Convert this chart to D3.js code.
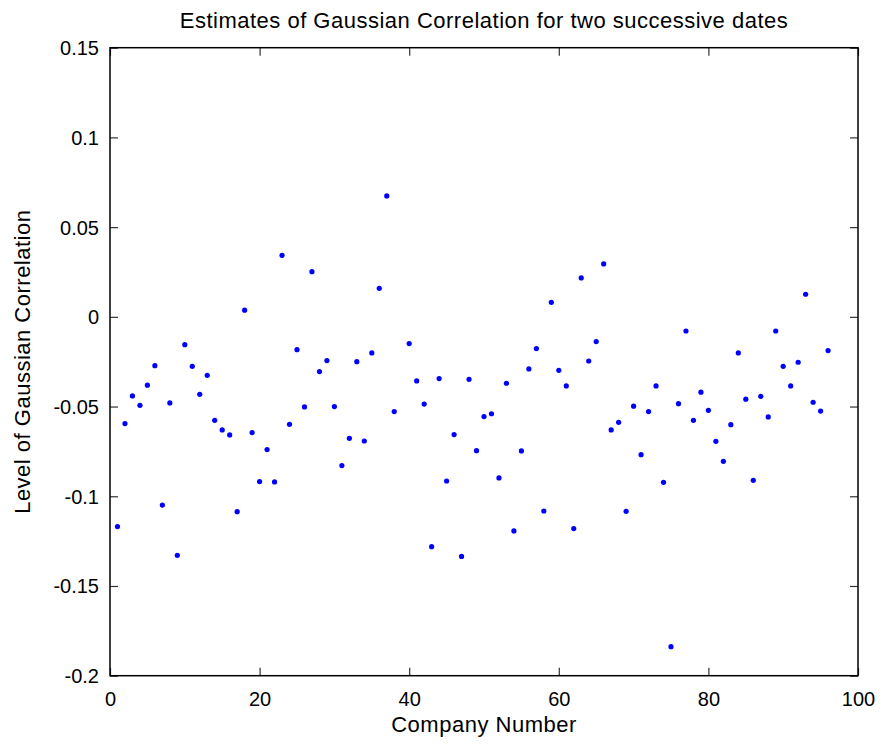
<!DOCTYPE html>
<html>
<head>
<meta charset="utf-8">
<script src="https://cdn.jsdelivr.net/npm/d3@7"></script>
<style>
  html, body { margin: 0; padding: 0; background: #fff; }
  svg { display: block; font-family: "Liberation Sans", Arial, Helvetica, sans-serif; }
</style>
</head>
<body>
<svg id="chart" width="882" height="744"></svg>
<script>
// Company index 1..96 and the estimated correlation for each (39 has no estimate)
const companies = d3.range(1, 97);
const correlations = [
  -0.1169, -0.0595, -0.0441, -0.0493, -0.0381, -0.0272, -0.1049, -0.0480, -0.1329, -0.0155,
  -0.0276, -0.0432, -0.0326, -0.0577, -0.0630, -0.0658, -0.1086,  0.0037, -0.0645, -0.0918,
  -0.0740, -0.0920,  0.0343, -0.0599, -0.0183, -0.0502,  0.0252, -0.0305, -0.0244, -0.0500,
  -0.0829, -0.0677, -0.0250, -0.0692, -0.0201,  0.0159,  0.0674, -0.0528,  null,   -0.0149,
  -0.0357, -0.0486, -0.1281, -0.0344, -0.0915, -0.0656, -0.1335, -0.0348, -0.0746, -0.0556,
  -0.0540, -0.0898, -0.0370, -0.1193, -0.0747, -0.0290, -0.0177, -0.1082,  0.0081, -0.0298,
  -0.0385, -0.1180,  0.0217, -0.0246, -0.0138,  0.0295, -0.0630, -0.0588, -0.1084, -0.0498,
  -0.0768, -0.0528, -0.0385, -0.0922, -0.1838, -0.0484, -0.0079, -0.0577, -0.0420, -0.0521,
  -0.0694, -0.0805, -0.0601, -0.0201, -0.0459, -0.0911, -0.0443, -0.0558, -0.0079, -0.0276,
  -0.0385, -0.0253,  0.0126, -0.0476, -0.0525, -0.0188
];
const xTicks = [0, 20, 40, 60, 80, 100];
const yTicks = [-0.2, -0.15, -0.1, -0.05, 0, 0.05, 0.1, 0.15];
const yTickLabels = ["-0.2", "-0.15", "-0.1", "-0.05", "0", "0.05", "0.1", "0.15"];

const points = companies
  .map((c, i) => ({ c, v: correlations[i] }))
  .filter(d => d.v !== null);

const svg = d3.select("#chart");
const plotLeft = 110, plotRight = 858, plotTop = 47.7, plotBottom = 675.7;

const x = d3.scaleLinear().domain([0, 100]).range([plotLeft, plotRight]);
const y = d3.scaleLinear().domain([-0.2, 0.15]).range([plotBottom, plotTop]);

const tickLen = 8;
const tickColor = "#333";

// inward ticks on all four sides
const axisDefs = [
  { axis: d3.axisBottom(x).tickValues(xTicks).tickFormat(d3.format("d")), tr: [0, plotBottom] },
  { axis: d3.axisTop(x).tickValues(xTicks).tickFormat(""), tr: [0, plotTop] },
  { axis: d3.axisLeft(y).tickValues(yTicks).tickFormat((d, i) => yTickLabels[i]), tr: [plotLeft, 0] },
  { axis: d3.axisRight(y).tickValues(yTicks).tickFormat(""), tr: [plotRight, 0] }
];

axisDefs.forEach((def, k) => {
  const g = svg.append("g")
    .attr("transform", `translate(${def.tr[0]},${def.tr[1]})`)
    .call(def.axis.tickSizeInner(-tickLen).tickSizeOuter(0).tickPadding(0));
  g.select(".domain").remove();
  g.selectAll(".tick line").attr("stroke", tickColor).attr("stroke-width", 1.2);
  g.selectAll(".tick text")
    .attr("fill", "#000")
    .style("font-size", "20px");
  if (k === 0) {
    g.selectAll(".tick text").attr("y", 30).attr("dy", 0);
  }
  if (k === 2) {
    g.selectAll(".tick text").attr("x", -11).attr("dy", "0.35em");
  }
});

// box
svg.append("rect")
  .attr("x", plotLeft).attr("y", plotTop)
  .attr("width", plotRight - plotLeft).attr("height", plotBottom - plotTop)
  .attr("fill", "none").attr("stroke", "#000").attr("stroke-width", 1.5);

// points
svg.append("g")
  .selectAll("circle")
  .data(points)
  .join("circle")
  .attr("cx", d => x(d.c))
  .attr("cy", d => y(d.v))
  .attr("r", 2.6)
  .attr("fill", "#0000ff");

// title and axis labels
const labelStyle = sel => sel
  .attr("text-anchor", "middle")
  .style("font-size", "22px")
  .style("letter-spacing", "0.5px");

svg.append("text")
  .attr("x", (plotLeft + plotRight) / 2).attr("y", 28)
  .call(labelStyle)
  .text("Estimates of Gaussian Correlation for two successive dates");

svg.append("text")
  .attr("x", (plotLeft + plotRight) / 2).attr("y", 732)
  .call(labelStyle)
  .text("Company Number");

svg.append("text")
  .attr("transform", `translate(30,${(plotTop + plotBottom) / 2}) rotate(-90)`)
  .call(labelStyle)
  .text("Level of Gaussian Correlation");
</script>
</body>
</html>
